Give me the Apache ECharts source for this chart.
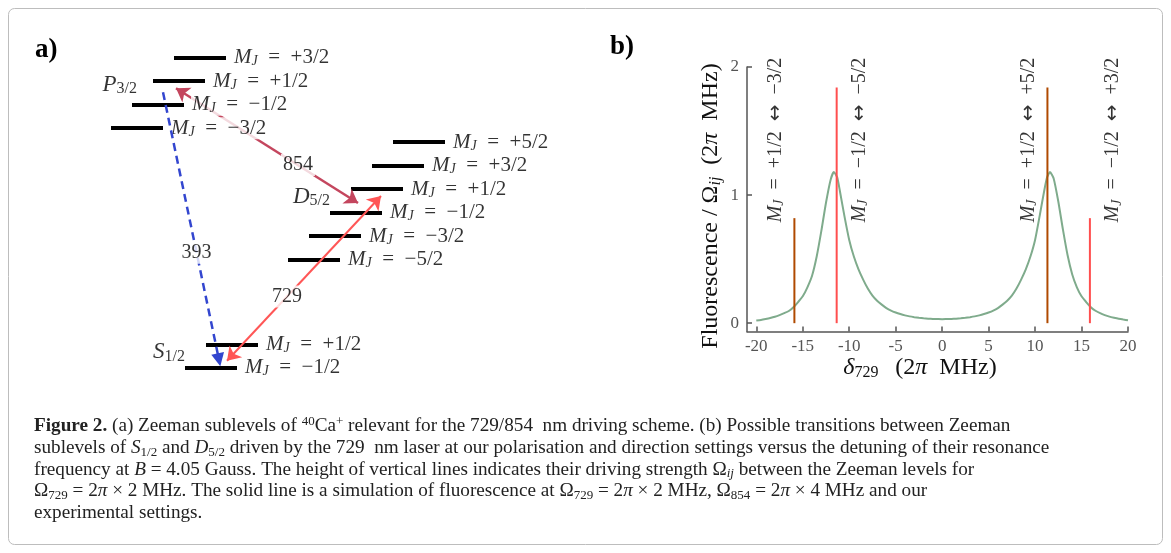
<!DOCTYPE html>
<html><head><meta charset="utf-8">
<script src="https://cdn.jsdelivr.net/npm/echarts@6/dist/echarts.min.js"></script>
<style>html,body{margin:0;padding:0;background:#fff}#c{width:1171px;height:553px}</style>
</head><body><div id="c"></div>
<script>
// ================= DATA =================
const detuningTicks = [-20, -15, -10, -5, 0, 5, 10, 15, 20];
const strengthTicks = [0, 1, 2];
const transitionDetuning = [-15.9, -11.35, 11.33, 15.9];
const transitionStrength = [0.82, 1.84, 1.84, 0.82];
const transitionLabels = ['+1/2 \u2194 \u22123/2', '\u22121/2 \u2194 \u22125/2', '+1/2 \u2194 +5/2', '\u22121/2 \u2194 +3/2'];
const transitionGroup = [0, 1, 0, 1];
const fluorDetuning = [-20, -19.5, -19, -18.5, -18, -17.5, -17, -16.5, -16, -15.5, -15, -14.5, -14, -13.5, -13, -12.5, -12, -11.65, -11.3, -11, -10.5, -10, -9.5, -9, -8.5, -8, -7.5, -7, -6.5, -6, -5.5, -5, -4.5, -4, -3.5, -3, -2.5, -2, -1.5, -1, -0.5, 0,
  0.5, 1, 1.5, 2, 2.5, 3, 3.5, 4, 4.5, 5, 5.5, 6, 6.5, 7, 7.5, 8, 8.5, 9, 9.5, 10, 10.5, 11, 11.3, 11.6, 12, 12.5, 13, 13.5, 14, 14.5, 15, 15.5, 16, 16.5, 17, 17.5, 18, 18.5, 19, 19.5, 20];
const fluorSignal = [0.02, 0.025, 0.032, 0.04, 0.05, 0.063, 0.078, 0.095, 0.125, 0.165, 0.21, 0.28, 0.37, 0.52, 0.72, 0.94, 1.12, 1.18, 1.14, 1.03, 0.83, 0.65, 0.52, 0.42, 0.34, 0.27, 0.215, 0.175, 0.145, 0.118, 0.098, 0.083, 0.071, 0.061, 0.053, 0.047, 0.042, 0.038, 0.035, 0.033, 0.032, 0.031,
  0.032, 0.033, 0.035, 0.038, 0.042, 0.047, 0.053, 0.061, 0.071, 0.083, 0.098, 0.118, 0.145, 0.175, 0.215, 0.27, 0.34, 0.42, 0.52, 0.65, 0.84, 1.04, 1.14, 1.18, 1.13, 0.95, 0.73, 0.53, 0.38, 0.28, 0.21, 0.165, 0.125, 0.097, 0.078, 0.063, 0.051, 0.042, 0.034, 0.028, 0.023];

// level scheme (panel a)
const termNames = ['P', 'D', 'S'];
const termJ = ['3/2', '5/2', '1/2'];
const levelsP = ['+3/2', '+1/2', '\u22121/2', '\u22123/2'];
const levelsD = ['+5/2', '+3/2', '+1/2', '\u22121/2', '\u22123/2', '\u22125/2'];
const levelsS = ['+1/2', '\u22121/2'];
const wavelengths = ['393', '854', '729'];

// ================= LAYOUT / STYLE =================
const SERIF = "'Liberation Serif', 'Times New Roman', serif";
const C_BROWN = '#b04a00', C_RED = '#ff4f4f', C_GREEN = '#7fab8c';
const C_854 = '#c4465e', C_729 = '#ff5656', C_393 = '#3346cf';

const LVL = { len: 52, dx: -21, dy: 23.5 };
const anchor = { P: [174, 57.7], D: [393, 142], S: [206, 344.3] };
const levelLists = { P: levelsP, D: levelsD, S: levelsS };
function levelPos(m, i) { return [anchor[m][0] + i * LVL.dx, anchor[m][1] + i * LVL.dy]; }
function add(p, d) { return [p[0] + d[0], p[1] + d[1]]; }

const levelSegs = [], levelLabelPts = [];
['P', 'D', 'S'].forEach(m => levelLists[m].forEach((mj, i) => {
  const p = levelPos(m, i);
  levelSegs.push({ coords: [p, [p[0] + LVL.len, p[1]]] });
  levelLabelPts.push({ value: [p[0] + LVL.len, p[1]], mj: mj });
}));

const arr393 = [add(levelPos('P', 1), [10, 11]), add(levelPos('S', 1), [34, -8])];
const arr854 = [add(levelPos('P', 1), [23, 7]), add(levelPos('D', 2), [7, 14])];
const arr729 = [add(levelPos('S', 1), [42, -7]), add(levelPos('D', 2), [30, 7])];
function along(a, t) { return [a[0][0] + (a[1][0] - a[0][0]) * t, a[0][1] + (a[1][1] - a[0][1]) * t]; }
const wlLabelPts = [
  { value: along(arr393, 0.6), name: wavelengths[0] },
  { value: along(arr854, 0.67), name: wavelengths[1] },
  { value: along(arr729, 0.39), name: wavelengths[2] }
];
const termLabelPts = [
  { value: add(levelPos('P', 1), [-16, 4]), t: 0 },
  { value: add(levelPos('D', 2), [-21, 8]), t: 1 },
  { value: add(levelPos('S', 0), [-21, 8]), t: 2 }
];

const mathRich = {
  m: { fontFamily: SERIF, fontStyle: 'italic', fontSize: 21, lineHeight: 22, color: '#000' },
  s: { fontFamily: SERIF, fontStyle: 'italic', fontSize: 14, lineHeight: 12, verticalAlign: 'bottom', color: '#000' },
  t: { fontFamily: SERIF, fontSize: 21, lineHeight: 22, color: '#000' },
  T: { fontFamily: SERIF, fontStyle: 'italic', fontSize: 23, lineHeight: 24, color: '#000' },
  S: { fontFamily: SERIF, fontSize: 16, lineHeight: 14, verticalAlign: 'bottom', color: '#000' }
};
const vRich = {
  m: { fontFamily: SERIF, fontStyle: 'italic', fontSize: 20, lineHeight: 22, color: '#000' },
  s: { fontFamily: SERIF, fontStyle: 'italic', fontSize: 14, lineHeight: 12, verticalAlign: 'bottom', color: '#000' },
  t: { fontFamily: SERIF, fontSize: 20, lineHeight: 22, color: '#000' },
  a: { fontFamily: "'DejaVu Sans', sans-serif", fontSize: 20, lineHeight: 22, color: '#000' }
};
function vLabel(txt) {
  const parts = txt.split(' \u2194 ');
  return '{m|M}{s|J}{t|\u2002=\u2002' + parts[0] + '\u2002}{a|\u2194}{t|\u2002' + parts[1] + '}';
}

const chart = echarts.init(document.getElementById('c'), null, { renderer: 'canvas' });

const axisCol = '#555';
const CAP_FS = 19.2;
const capBase = { fontFamily: SERIF, fontSize: CAP_FS, lineHeight: 22, fill: '#222' };
const capRich = {
  b: { fontFamily: SERIF, fontSize: CAP_FS, fontWeight: 'bold', lineHeight: 22 },
  i: { fontFamily: SERIF, fontSize: CAP_FS, fontStyle: 'italic', lineHeight: 22 },
  sup: { fontFamily: SERIF, fontSize: 13, lineHeight: 12, verticalAlign: 'top' },
  sub: { fontFamily: SERIF, fontSize: 13, lineHeight: 12, verticalAlign: 'bottom' },
  subi: { fontFamily: SERIF, fontSize: 13, fontStyle: 'italic', lineHeight: 12, verticalAlign: 'bottom' }
};
const captionLines = [
  '{b|Figure 2.} (a) Zeeman sublevels of {sup|40}Ca{sup|+} relevant for the 729/854\u2002nm driving scheme. (b) Possible transitions between Zeeman',
  'sublevels of {i|S}{sub|1/2} and {i|D}{sub|5/2} driven by the 729\u2002nm laser at our polarisation and direction settings versus the detuning of their resonance',
  'frequency at {i|B} = 4.05 Gauss. The height of vertical lines indicates their driving strength \u03a9{subi|ij} between the Zeeman levels for',
  '\u03a9{sub|729} = 2{i|\u03c0} \u00d7 2 MHz. The solid line is a simulation of fluorescence at \u03a9{sub|729} = 2{i|\u03c0} \u00d7 2 MHz, \u03a9{sub|854} = 2{i|\u03c0} \u00d7 4 MHz and our',
  'experimental settings.'
];
const captionY = [426, 448, 469.5, 491, 512.5];

const graphics = [
  { type: 'rect', shape: { x: 8.5, y: 8.5, width: 1154, height: 536, r: 6 }, style: { fill: 'none', stroke: '#bdbdbd', lineWidth: 1 }, z: 0 },
  { type: 'text', x: 35, y: 50, style: { text: 'a)', fontFamily: SERIF, fontWeight: 'bold', fontSize: 27, fill: '#000', textVerticalAlign: 'middle' } },
  { type: 'text', x: 610, y: 47, style: { text: 'b)', fontFamily: SERIF, fontWeight: 'bold', fontSize: 27, fill: '#000', textVerticalAlign: 'middle' } },
  { type: 'text', x: 711, y: 206, rotation: Math.PI / 2, style: {
      text: 'Fluorescence / \u03a9{s|ij}\u2002(2{i|\u03c0}\u2002MHz)', fontFamily: SERIF, fontSize: 24, lineHeight: 26, fill: '#111',
      textAlign: 'center', textVerticalAlign: 'middle',
      rich: { s: { fontFamily: SERIF, fontStyle: 'italic', fontSize: 16, lineHeight: 14, verticalAlign: 'bottom' }, i: { fontFamily: SERIF, fontStyle: 'italic', fontSize: 24, lineHeight: 26 } } } },
  { type: 'text', x: 920, y: 368, style: {
      text: '{i|\u03b4}{s|729}\u2002\u2009(2{i|\u03c0}\u2002MHz)', fontFamily: SERIF, fontSize: 24, lineHeight: 26, fill: '#111',
      textAlign: 'center', textVerticalAlign: 'middle',
      rich: { s: { fontFamily: SERIF, fontSize: 16, lineHeight: 14, verticalAlign: 'bottom' }, i: { fontFamily: SERIF, fontStyle: 'italic', fontSize: 24, lineHeight: 26 } } } }
];
captionLines.forEach((t, k) => graphics.push({ type: 'text', x: 34, y: captionY[k],
  style: Object.assign({ text: t, rich: capRich, textVerticalAlign: 'middle' }, capBase) }));

const option = {
  backgroundColor: '#fff',
  animation: false,
  grid: [
    { left: 747, right: 43, top: 67, bottom: 221.5 },
    { left: 0, top: 0, width: 600, height: 400 }
  ],
  xAxis: [
    { type: 'value', gridIndex: 0, min: -21, max: 20,
      axisLine: { show: true, onZero: false, lineStyle: { color: axisCol, width: 1.5 } },
      axisTick: { show: true, inside: true, length: 5, customValues: detuningTicks, lineStyle: { color: axisCol, width: 1.5 } },
      axisLabel: { customValues: detuningTicks, color: axisCol, fontFamily: SERIF, fontSize: 17, margin: 7 },
      splitLine: { show: false } },
    { type: 'value', gridIndex: 1, min: 0, max: 600, show: false }
  ],
  yAxis: [
    { type: 'value', gridIndex: 0, min: -0.065, max: 2,
      axisLine: { show: true, onZero: false, lineStyle: { color: axisCol, width: 1.5 } },
      axisTick: { show: true, inside: true, length: 5, customValues: strengthTicks, lineStyle: { color: axisCol, width: 1.5 } },
      axisLabel: { customValues: strengthTicks, color: axisCol, fontFamily: SERIF, fontSize: 17, margin: 8 },
      splitLine: { show: false } },
    { type: 'value', gridIndex: 1, min: 0, max: 400, inverse: true, show: false }
  ],
  series: [
    { type: 'line', xAxisIndex: 0, yAxisIndex: 0, data: fluorDetuning.map((x, i) => [x, fluorSignal[i]]),
      showSymbol: false, smooth: 0.2, lineStyle: { color: C_GREEN, width: 2 }, z: 2 },
    { type: 'bar', xAxisIndex: 0, yAxisIndex: 0, barWidth: 2,
      data: transitionDetuning.map((x, i) => ({ value: [x, transitionStrength[i]], itemStyle: { color: transitionGroup[i] ? C_RED : C_BROWN } })), z: 3 },
    { type: 'scatter', xAxisIndex: 0, yAxisIndex: 0, symbolSize: 0,
      data: transitionDetuning.map((x, i) => ({ value: [x, 1.43], txt: transitionLabels[i],
        label: { offset: [0, transitionGroup[i] ? 23 : -19] } })),
      label: { show: true, position: 'inside', rotate: 90, formatter: p => vLabel(p.data.txt), rich: vRich }, z: 4 },
    // panel a
    { type: 'lines', coordinateSystem: 'cartesian2d', xAxisIndex: 1, yAxisIndex: 1, data: levelSegs,
      symbol: 'none', lineStyle: { color: '#000', width: 4, opacity: 1 }, z: 2 },
    { type: 'lines', coordinateSystem: 'cartesian2d', xAxisIndex: 1, yAxisIndex: 1, data: [{ coords: arr854 }],
      symbol: ['arrow', 'arrow'], symbolSize: 13, itemStyle: { color: C_854 }, lineStyle: { color: C_854, width: 2.5, opacity: 1 }, z: 3 },
    { type: 'scatter', xAxisIndex: 1, yAxisIndex: 1, symbolSize: 0, data: levelLabelPts,
      label: { show: true, position: 'right', distance: 7, backgroundColor: '#fff', padding: [0, 1],
        formatter: p => '{m|M}{s|J}{t|\u2002=\u2002' + p.data.mj + '}', rich: mathRich }, z: 4 },
    { type: 'lines', coordinateSystem: 'cartesian2d', xAxisIndex: 1, yAxisIndex: 1, data: [{ coords: arr393 }],
      symbol: ['none', 'triangle'], symbolSize: 13, itemStyle: { color: C_393 }, lineStyle: { color: C_393, width: 2.5, type: [8, 5], opacity: 1 }, z: 5 },
    { type: 'lines', coordinateSystem: 'cartesian2d', xAxisIndex: 1, yAxisIndex: 1, data: [{ coords: arr729 }],
      symbol: ['arrow', 'arrow'], symbolSize: 13, itemStyle: { color: C_729 }, lineStyle: { color: C_729, width: 2, opacity: 1 }, z: 5 },
    { type: 'scatter', xAxisIndex: 1, yAxisIndex: 1, symbolSize: 0, data: wlLabelPts,
      label: { show: true, position: 'inside', formatter: p => p.name, backgroundColor: '#fff', padding: [1, 2],
        fontFamily: SERIF, fontSize: 20, color: '#000' }, z: 6 },
    { type: 'scatter', xAxisIndex: 1, yAxisIndex: 1, symbolSize: 0, data: termLabelPts,
      label: { show: true, position: 'left', distance: 0, formatter: p => '{T|' + termNames[p.data.t] + '}{S|' + termJ[p.data.t] + '}', rich: mathRich }, z: 6 }
  ],
  graphic: graphics
};
chart.setOption(option);
</script></body></html>
